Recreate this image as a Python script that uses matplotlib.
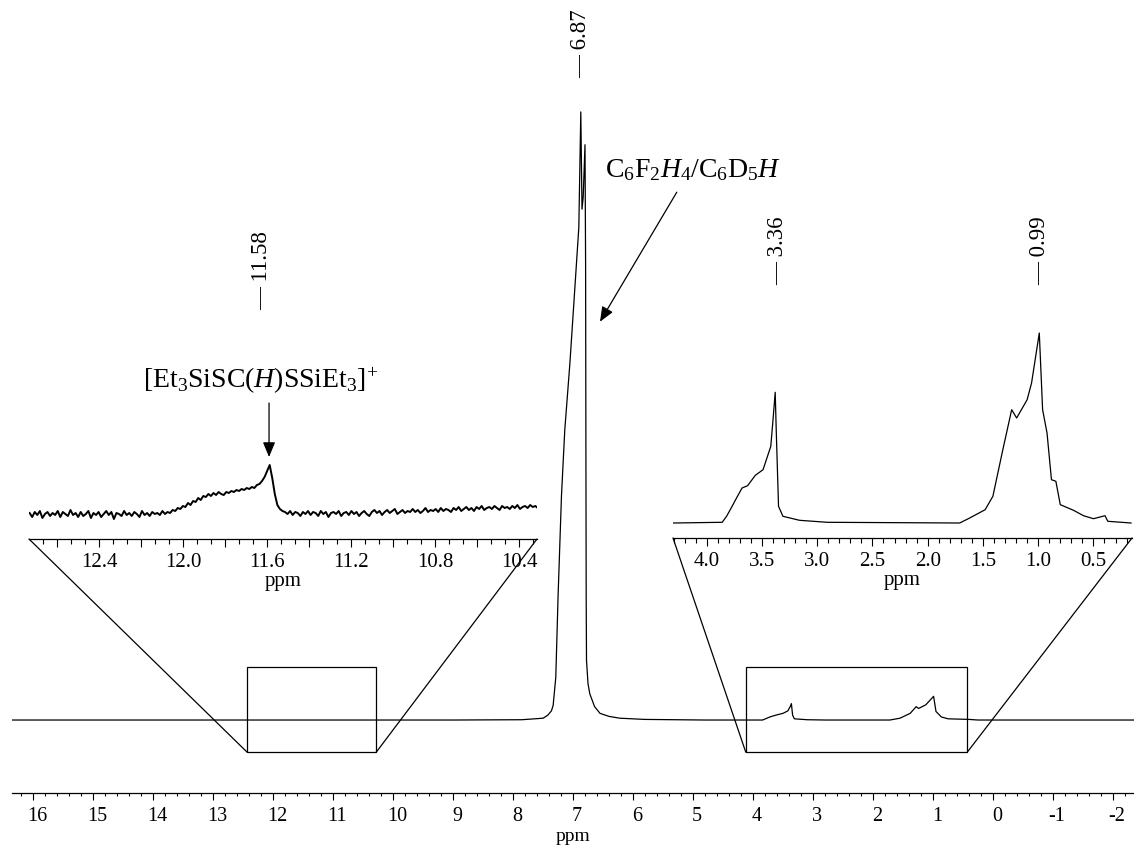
import numpy as np
import matplotlib
matplotlib.use("Agg")
import matplotlib.pyplot as plt
from matplotlib.patches import Rectangle, ConnectionPatch
from matplotlib.ticker import MultipleLocator, AutoMinorLocator, FuncFormatter
from matplotlib.transforms import ScaledTranslation

plt.rcParams["font.family"] = ["Liberation Serif", "DejaVu Serif"]
plt.rcParams["mathtext.fontset"] = "custom"
plt.rcParams["mathtext.rm"] = "Liberation Serif"
plt.rcParams["mathtext.it"] = "Liberation Serif:italic"
plt.rcParams["axes.unicode_minus"] = False

W, H = 1134, 850

# full spectrum (relative intensity, tallest line = 100)
main_ppm = [16.35, 9.0, 7.85, 7.498, 7.42, 7.36, 7.331, 7.287, 7.248, 7.192,
            7.137, 7.053, 6.998, 6.903, 6.87, 6.85, 6.83, 6.80, 6.79, 6.785,
            6.78, 6.775, 6.75, 6.72, 6.64, 6.55, 6.4, 6.22, 5.8, 4.8,
            3.84, 3.72, 3.62, 3.50, 3.42, 3.38, 3.36, 3.34, 3.31, 3.1,
            2.8, 1.72, 1.55, 1.38, 1.28, 1.24, 1.12, 0.99, 0.95, 0.86,
            0.75, 0.4, 0.25, -2.35]
main_int = [0, 0, 0.05, 0.3, 0.8, 1.5, 2.4, 7.0, 20.6, 36.9,
            47.7, 58.5, 66.7, 81, 100, 84, 86, 94.6, 75, 45,
            20, 9.8, 6.0, 4.3, 2.2, 1.1, 0.6, 0.3, 0.1, 0,
            0, 0.5, 0.8, 1.1, 1.5, 2.2, 2.7, 0.8, 0.2, 0.05,
            0, 0, 0.3, 1.1, 2.2, 1.9, 2.5, 3.9, 1.4, 0.5,
            0.2, 0.1, 0, 0]

# expanded region 12.7 - 10.3 ppm (noisy trace)
left_ppm = np.linspace(12.73, 10.31, 200)
left_int = [
    1, -3, 2, -1, 3, -4, 0, 2, -2, 1,
    -1, 3, -3, 2, 0, -2, 4, -1, 1, -3,
    2, -2, 0, 3, -4, 1, -1, 2, -3, 0,
    3, -1, 2, -5, 1, 0, -2, 3, -1, 1,
    -2, 2, 0, -3, 3, -1, 1, -2, 2, 0,
    1, -1, 3, 0, 2, 1, 4, 3, 6, 5,
    8, 7, 11, 9, 13, 12, 16, 14, 18, 17,
    20, 18, 21, 19, 22, 20, 19, 22, 21, 23,
    22, 24, 23, 25, 24, 26, 25, 27, 26, 29,
    30, 33, 37, 43, 49, 36, 20, 9, 5, 3,
    2, 0, 3, -1, 2, 1, -2, 2, 0, 3,
    -1, 2, 1, -2, 3, 0, 2, -3, 1, 2,
    0, 3, -2, 1, 2, -1, 3, 0, 2, -2,
    1, 3, 0, -2, 2, 4, 1, 3, -1, 2,
    4, 1, 3, 5, 0, 2, 4, 1, 3, 2,
    5, 2, 4, 1, 3, 6, 2, 4, 3, 5,
    2, 6, 3, 5, 4, 2, 6, 4, 7, 3,
    5, 7, 4, 6, 3, 7, 5, 8, 4, 6,
    7, 5, 8, 6, 4, 8, 6, 7, 5, 8,
    6, 9, 5, 7, 8, 6, 9, 7, 8, 6,
]

# expanded region 4.3 - 0.15 ppm
right_ppm = [4.30, 3.86, 3.82, 3.77, 3.735, 3.68, 3.63, 3.56, 3.49, 3.44,
             3.42, 3.40, 3.38, 3.37, 3.35, 3.31, 3.16, 2.91, 1.71, 1.62,
             1.48, 1.41, 1.32, 1.24, 1.195, 1.10, 1.06, 0.99, 0.96, 0.92,
             0.88, 0.84, 0.80, 0.68, 0.59, 0.50, 0.395, 0.37, 0.16]
right_int = [0, 0.7, 6.7, 16.7, 24, 35, 37.3, 47.7, 53.3, 70,
             76.7, 103, 130.7, 90, 16.7, 6.7, 2.7, 0.7, 0, 5,
             13.3, 26.7, 73.3, 113.3, 105, 123.3, 140, 190, 113.3, 90,
             43.3, 41.7, 18.3, 12.7, 7.3, 4.3, 7.3, 1.7, 0]

peak_text = ["11.58", "6.87", "3.36", "0.99"]
peak_ppm = [11.58, 6.87, 3.36, 0.99]

box_left = (12.43, 10.28)
box_right = (4.12, 0.43)
box_int = (-5.3, 8.7)


def px_axes(fig, left, top, right, bottom):
    """Add axes placed in pixel units measured from the top-left corner."""
    return fig.add_axes([left / W, 1 - bottom / H, (right - left) / W, (bottom - top) / H])


def fy(ypx):
    return 1 - ypx / H


def style_axis(axe, major, minor, fmt, size, major_len, minor_len, pad):
    for side in ["top", "left", "right"]:
        axe.spines[side].set_visible(False)
    axe.spines["bottom"].set_linewidth(0.9)
    axe.set_facecolor("none")
    axe.set_yticks([])
    axe.xaxis.set_major_locator(MultipleLocator(major))
    axe.xaxis.set_minor_locator(AutoMinorLocator(minor))
    axe.xaxis.set_major_formatter(FuncFormatter(fmt))
    axe.tick_params(axis="x", which="major", length=major_len, width=0.8, pad=pad, labelsize=size)
    axe.tick_params(axis="x", which="minor", length=minor_len, width=0.8)


fig = plt.figure(figsize=(W / 100, H / 100), dpi=100)

# main spectrum
ax = px_axes(fig, 12, 0, 1134, 793)
ax.plot(main_ppm, main_int, color="black", lw=0.9)
ax.set_xlim(16.35, -2.35)
ax.set_ylim(-12.0, 118.4)
style_axis(ax, 1, 5, lambda v, p: f"{v:.0f}", 14.5, 4.8, 2.4, 5)
ax.set_xlabel("ppm", fontsize=14, labelpad=2)
shift = ScaledTranslation(4 / 100, 0, fig.dpi_scale_trans)
for lab in ax.get_xticklabels():
    lab.set_transform(lab.get_transform() + shift)

# left inset
axl = px_axes(fig, 29, 420, 537, 539)
axl.plot(left_ppm, left_int, color="black", lw=1.4)
axl.set_xlim(12.733, 10.314)
axl.set_ylim(-25, 94)
style_axis(axl, 0.2, 3,
           lambda v, p: f"{v:.1f}" if abs(v / 0.4 - round(v / 0.4)) < 1e-6 else "",
           15, 6, 3.5, 4)
axl.set_xlabel("ppm", fontsize=15, labelpad=0)

# right inset
axr = px_axes(fig, 673, 318, 1132, 538)
axr.plot(right_ppm, right_int, color="black", lw=0.9)
axr.set_xlim(4.305, 0.151)
axr.set_ylim(-15, 205)
style_axis(axr, 0.5, 5, lambda v, p: f"{v:.1f}", 15, 6, 3.5, 4)
axr.set_xlabel("ppm", fontsize=15, labelpad=0)

# zoom boxes and connecting lines
for inset, box in [(axl, box_left), (axr, box_right)]:
    ax.add_patch(Rectangle((box[1], box_int[0]), box[0] - box[1], box_int[1] - box_int[0],
                           fill=False, lw=0.9, edgecolor="black"))
    for frac, edge in [(0, box[0]), (1, box[1])]:
        con = ConnectionPatch(xyA=(frac, 0), coordsA=inset.transAxes,
                              xyB=(edge, box_int[0]), coordsB=ax.transData,
                              lw=0.9, color="black")
        fig.add_artist(con)

# peak labels
label_axes = [axl, ax, axr, axr]
label_bottom = [310, 78, 285, 285]
label_dx = [-10, 0, 0, 0]
for axe, x, txt, yb, dx in zip(label_axes, peak_ppm, peak_text, label_bottom, label_dx):
    axe.annotate("\u2014 " + txt, xy=(x, fy(yb)), xycoords=("data", "figure fraction"),
                 xytext=(dx, 0), textcoords="offset pixels",
                 rotation=90, ha="center", va="bottom", fontsize=16.5, annotation_clip=False)

# assignments
arrow = dict(arrowstyle="-|>,head_length=0.6,head_width=0.25", lw=0.9, color="black",
             shrinkA=0, shrinkB=0, mutation_scale=15)
ax.text(6.47, 89.3, r"$\mathrm{C_6F_2}\mathit{H}_4\mathrm{/C_6D_5}\mathit{H}$",
        fontsize=20, ha="left", va="baseline")
ax.annotate("", xy=(6.55, 65.5), xytext=(5.27, 86.8), arrowprops=arrow)

axl.text(11.63, 126, r"$[\mathrm{Et_3SiSC(}\mathit{H}\mathrm{)SSiEt_3}]^{+}$",
         fontsize=20, ha="center", va="baseline", clip_on=False)
axl.annotate("", xy=(11.59, 57), xytext=(11.59, 111), arrowprops=arrow, annotation_clip=False)

fig.savefig("out.png", dpi=100)
